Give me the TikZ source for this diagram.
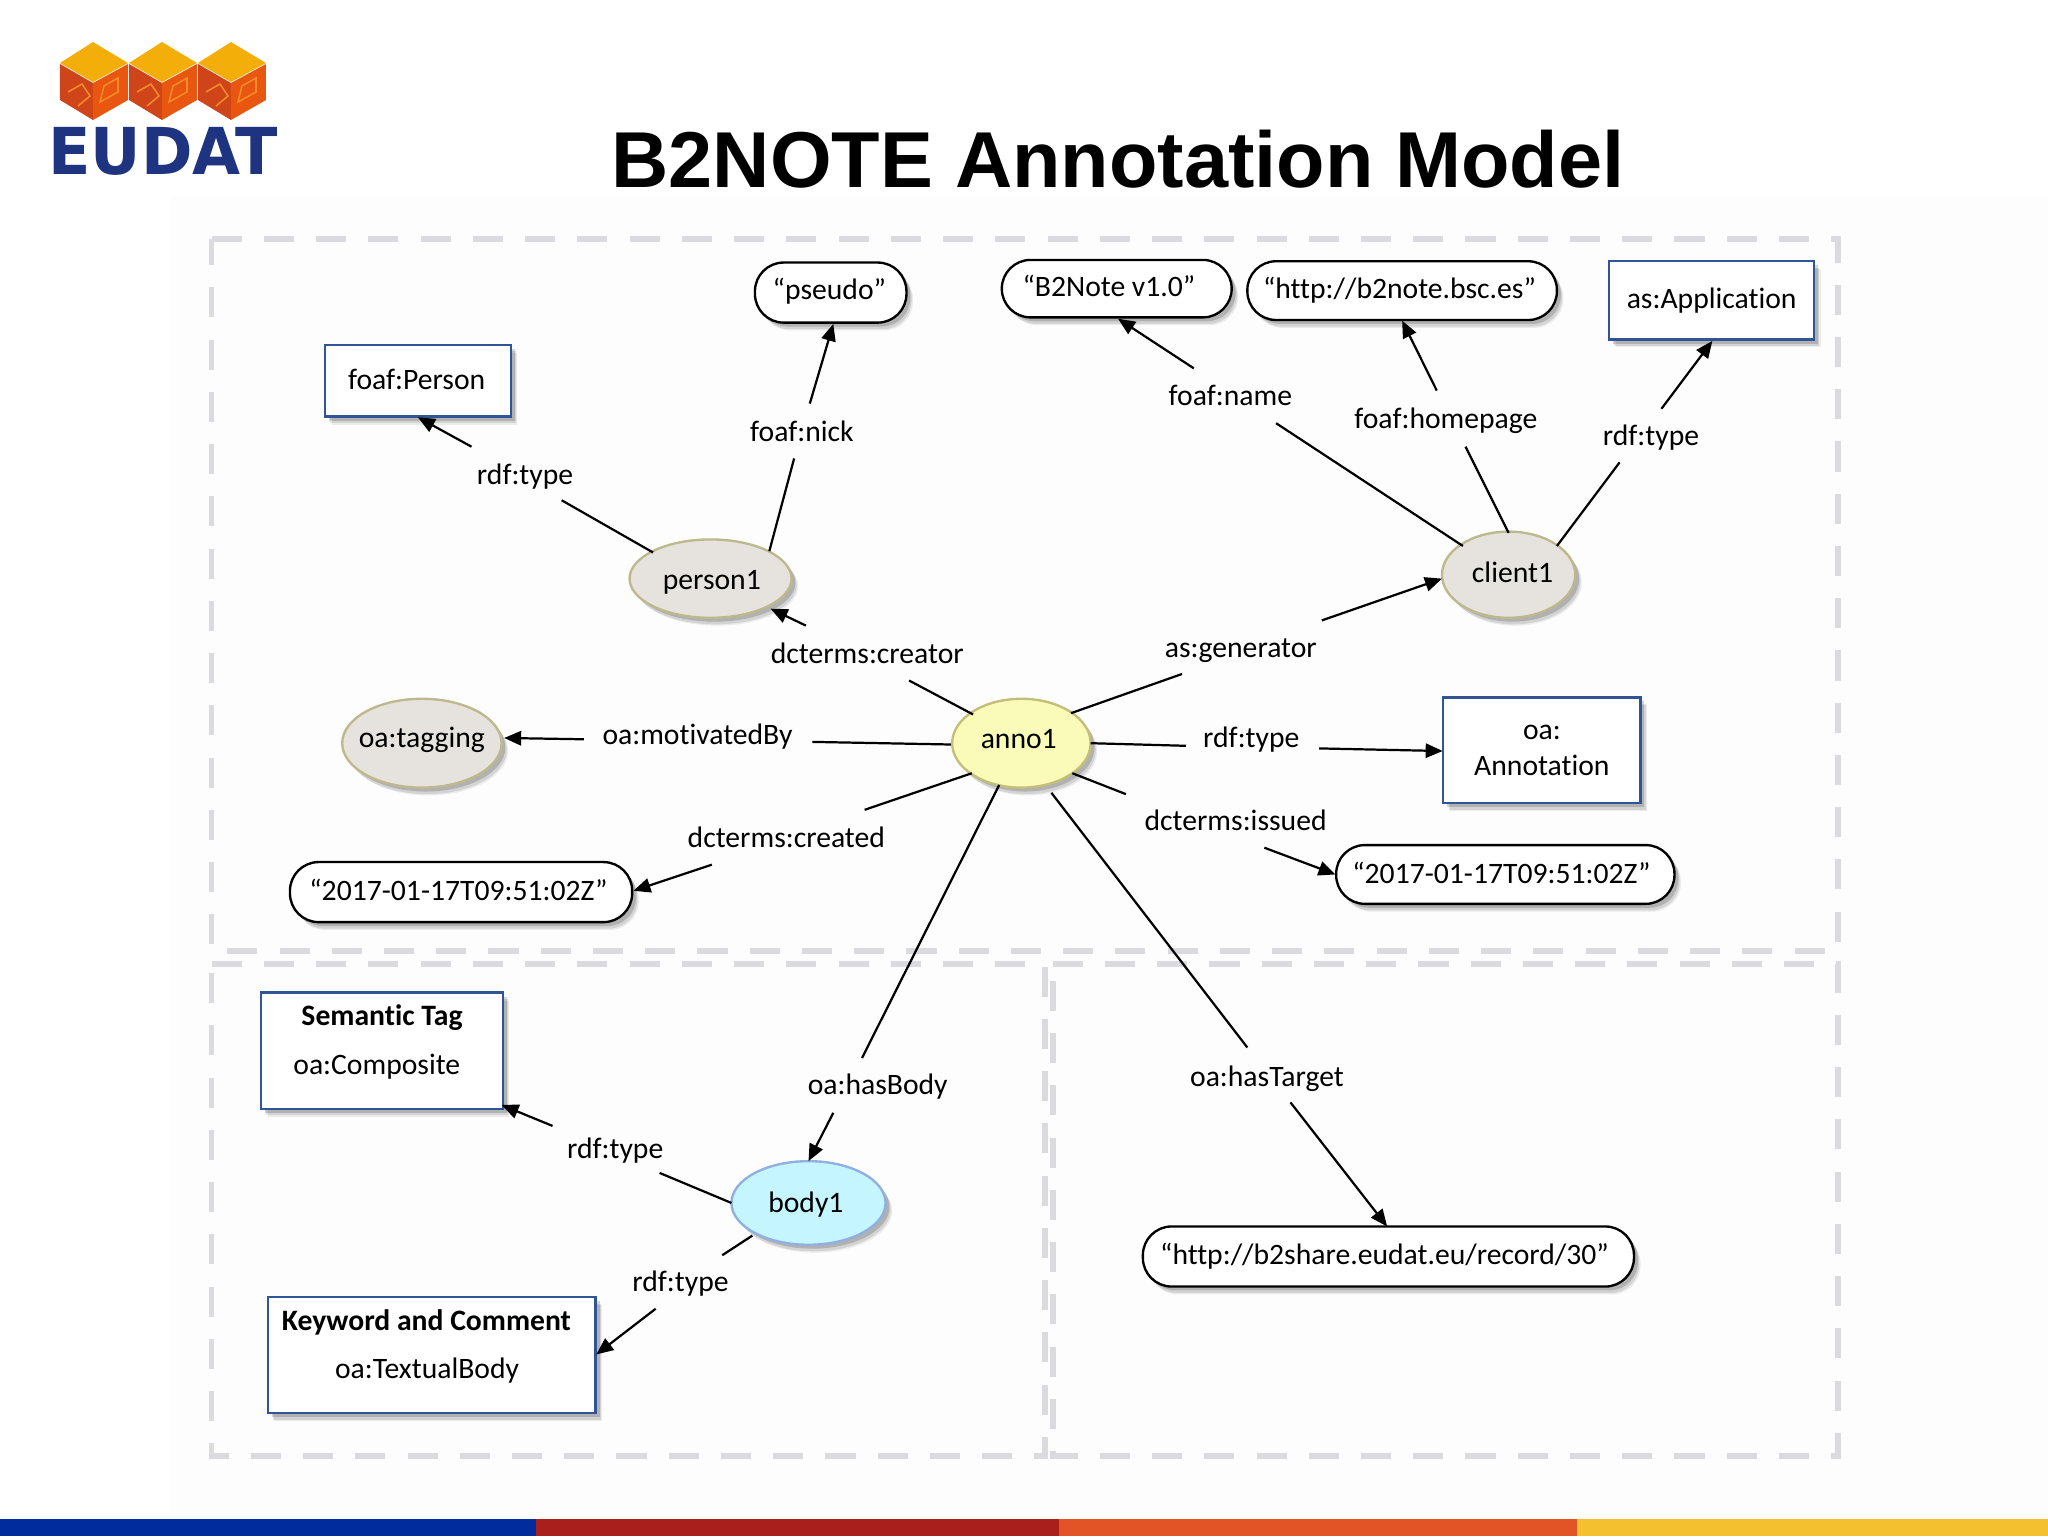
\documentclass[tikz,border=0pt]{standalone}
\usepackage{fontspec}
\setmainfont{Carlito}[Ligatures={NoCommon}]
\newfontfamily\titlefont{Liberation Sans}
\newfontfamily\logofont{DejaVu Sans}
\usetikzlibrary{shapes.geometric,arrows.meta,calc,shadows}
\definecolor{framegray}{HTML}{DADADF}
\definecolor{boxblue}{HTML}{2F5597}
\definecolor{logoblue}{HTML}{1F3480}
\definecolor{logotop}{HTML}{F4AE0A}
\definecolor{logoleft}{HTML}{CF4418}
\definecolor{logoright}{HTML}{E8560F}
\definecolor{logoline}{HTML}{F58A2A}
\definecolor{barblue}{HTML}{002C9E}
\definecolor{barred}{HTML}{A81F1C}
\definecolor{barorange}{HTML}{E25326}
\definecolor{baryellow}{HTML}{F5C030}
\definecolor{olivedraw}{HTML}{BDB98C}
\definecolor{greyfill}{HTML}{E6E3DE}
\definecolor{annofill}{HTML}{FAFBB8}
\definecolor{annodraw}{HTML}{C3BE78}
\definecolor{bodyfill}{HTML}{C5F5FF}
\definecolor{bodydraw}{HTML}{8FB0E0}
\definecolor{pagetint}{HTML}{FEFDFE}
\tikzset{
  softshadow/.style={
    drop shadow={shadow xshift=5pt,shadow yshift=-6pt,opacity=.07,fill=black},
    drop shadow={shadow xshift=4pt,shadow yshift=-5pt,opacity=.10,fill=black},
    drop shadow={shadow xshift=3pt,shadow yshift=-3pt,opacity=.16,fill=black}},
  frame/.style={draw=framegray,line width=4.4pt,dash pattern=on 23pt off 17pt},
  conn/.style={draw=black,line width=1.7pt,line cap=butt},
  arrowconn/.style={conn,-{Triangle[length=13pt,width=11pt]}},
  lbl/.style={inner sep=0pt,font=\fontsize{22.7}{27}\selectfont},
  rectbox/.style={draw=boxblue,line width=1.8pt,fill=white,softshadow,inner sep=0pt,align=center,
    font=\fontsize{22.7}{28}\selectfont},
  literal/.style={draw=black,line width=1.8pt,fill=white,rounded corners=22pt,softshadow,inner sep=0pt,
    font=\fontsize{22.7}{27}\selectfont},
  resource/.style={ellipse,draw=#1,line width=1.8pt,softshadow,inner sep=0pt,
    font=\fontsize{22.7}{27}\selectfont},
  cubetop/.style={fill=logotop},
  cubeleft/.style={fill=logoleft},
  cuberight/.style={fill=logoright},
}
% text displaced by (dx right, dy up) from its node's centre, not counted in the node's size
\newcommand{\moved}[3]{\makebox[0pt]{\hspace*{\dimexpr 2\dimexpr#1pt\relax\relax}\smash{\raisebox{\dimexpr #2pt-7pt\relax}{#3}}}}
\newcommand{\logocube}[1]{%
  \begin{scope}[shift={(#1,0)}]
    \fill[cubeleft] (60,64) -- (93,83) -- (93,120) -- (60,100) -- cycle;
    \fill[cuberight] (93,83) -- (128,64) -- (128,100) -- (93,120) -- cycle;
    \fill[cubetop] (60,63) -- (93,42) -- (128,63) -- (93,82) -- cycle;
    \draw[logoline,line width=1.2pt] (68,92) -- (82,84) -- (90,96) -- (78,106);
    \draw[logoline,line width=1.2pt] (100,102) -- (118,92) -- (118,78) -- (104,86) -- cycle;
  \end{scope}}
\begin{document}
\begin{tikzpicture}[x=1pt,y=-1pt]
\useasboundingbox (0,0) rectangle (1568,1176);
\fill[white] (0,0) rectangle (1568,1176);
\fill[pagetint] (130,150) rectangle (1568,1160);
% bottom bar
\fill[barblue] (0,1163) rectangle (410,1176);
\fill[barred] (410,1163) rectangle (811,1176);
\fill[barorange] (811,1163) rectangle (1207,1176);
\fill[baryellow] (1207,1163) rectangle (1568,1176);
% logo
\begin{scope}[x=0.7656pt,y=-0.7656pt]
  \logocube{0}\logocube{69}\logocube{138}
\end{scope}
\node[inner sep=0pt,xscale=.96,text=logoblue,font=\logofont\bfseries\fontsize{49.5}{50}\selectfont] (eudat) at (125,116) {EUDAT};
% title
\node[inner sep=0pt,font=\titlefont\bfseries\fontsize{60.7}{62}\selectfont] (title) at (856,122) {B2NOTE Annotation Model};
% dashed frames
\draw[frame] (162,183) -- (1407,183) -- (1407,728) -- (162,728) -- cycle;
\draw[frame] (162,738) -- (800,738) -- (800,1115) -- (162,1115) -- cycle;
\draw[frame] (806,738) -- (1407,738) -- (1407,1115) -- (806,1115) -- cycle;
% nodes
\node[rectbox,minimum width=142pt,minimum height=55pt] (person) at (320,291.5) {\moved{-1}{0.5}{foaf:Person}};
\node[literal,minimum width=116pt,minimum height=46pt] (pseudo) at (636,224) {\moved{-1}{2}{“pseudo”}};
\node[literal,minimum width=176pt,minimum height=44pt] (b2note) at (855,221) {\moved{-6}{1}{“B2Note v1.0”}};
\node[literal,minimum width=237pt,minimum height=45pt] (homepage) at (1073.5,222.5) {\moved{-2}{1}{“http://b2note.bsc.es”}};
\node[rectbox,minimum width=157pt,minimum height=60pt] (application) at (1310.5,230) {as:Application};
\node[resource=olivedraw,fill=greyfill,minimum width=124pt,minimum height=60pt] (person1) at (544,443) {\moved{1}{-1}{person1}};
\node[resource=olivedraw,fill=greyfill,minimum width=102pt,minimum height=66pt] (client1) at (1155,440) {\moved{3}{1}{client1}};
\node[resource=olivedraw,fill=greyfill,minimum width=122pt,minimum height=68pt] (tagging) at (323,569) {\moved{0}{4}{oa:tagging}};
\node[resource=annodraw,fill=annofill,minimum width=106pt,minimum height=68pt] (anno1) at (782,569) {\moved{-2}{3}{anno1}};
\node[rectbox,minimum width=151pt,minimum height=81pt] (annotation) at (1180.5,574.5) {oa:\\Annotation};
\node[literal,minimum width=259pt,minimum height=45pt] (issued) at (1152.5,669.5) {\moved{-3}{0}{“2017-01-17T09:51:02Z”}};
\node[literal,minimum width=262pt,minimum height=46pt] (created) at (353,683) {\moved{-2}{0.5}{“2017-01-17T09:51:02Z”}};
\node[rectbox,font=\fontsize{22.7}{37}\selectfont,minimum width=185pt,minimum height=89pt] (semantic) at (292.5,804.5) {\textbf{Semantic Tag}\\\hspace*{-8pt}oa:Composite\rule[-17pt]{0pt}{0pt}};
\node[rectbox,font=\fontsize{22.7}{37}\selectfont,minimum width=251pt,minimum height=89pt] (keyword) at (330.5,1037.5) {\textbf{Keyword and Comment}\hspace*{8pt}\\oa:TextualBody\hspace*{7pt}\rule[-17pt]{0pt}{0pt}};
\node[resource=bodydraw,fill=bodyfill,minimum width=118pt,minimum height=64pt] (body1) at (619,921) {\moved{-2}{0}{body1}};
\node[literal,minimum width=376pt,minimum height=46pt] (target) at (1063,962) {\moved{-3}{1}{“http://b2share.eudat.eu/record/30”}};
% edge labels
\node[lbl] (t1) at (402,365) {rdf:type};
\node[lbl] (nick) at (614,330) {foaf:nick};
\node[lbl] (name) at (942,303) {foaf:name};
\node[lbl] (hp) at (1107,322) {foaf:homepage};
\node[lbl] (t2) at (1264,335) {rdf:type};
\node[lbl] (creator) at (664,500) {dcterms:creator};
\node[lbl] (generator) at (950,498) {as:generator};
\node[lbl] (motivated) at (534,564) {oa:motivatedBy};
\node[lbl] (t3) at (958,566) {rdf:type};
\node[lbl] (createdl) at (602,641) {dcterms:created};
\node[lbl] (issuedl) at (946,628) {dcterms:issued};
\node[lbl] (hasbody) at (672,832) {oa:hasBody};
\node[lbl] (hastarget) at (970,826) {oa:hasTarget};
\node[lbl] (t4) at (471,881) {rdf:type};
\node[lbl] (t5) at (521,983) {rdf:type};
% connectors
\draw[conn] ($(person1)+(-44,-20)$) -- ($(t1)+(28,18)$);
\draw[arrowconn] ($(t1)+(-41,-23)$) -- ($(person)+(0,28)$);
\draw[conn] ($(person1)+(45,-21)$) -- ($(nick)+(-6,21)$);
\draw[arrowconn] ($(nick)+(6,-21)$) -- ($(pseudo)+(2,24)$);
\draw[conn] ($(client1)+(-35,-22)$) -- ($(name)+(35,21)$);
\draw[arrowconn] ($(name)+(-28,-21)$) -- ($(b2note)+(1,23)$);
\draw[conn] ($(client1)+(0,-32)$) -- ($(hp)+(15,20)$);
\draw[arrowconn] ($(hp)+(-7,-23)$) -- ($(homepage)+(0,23)$);
\draw[conn] ($(client1)+(37,-22)$) -- ($(t2)+(-24,19)$);
\draw[arrowconn] ($(t2)+(8,-22)$) -- ($(application)+(0.5,31)$);
\draw[conn] ($(anno1)+(-37,-22)$) -- ($(creator)+(32,21)$);
\draw[arrowconn] ($(creator)+(-47,-21)$) -- ($(person1)+(46,23)$);
\draw[conn] ($(anno1)+(38,-23)$) -- ($(generator)+(-45,18)$);
\draw[arrowconn] ($(generator)+(62,-23)$) -- ($(client1)+(-51,3)$);
\draw[conn] ($(anno1)+(-54,1)$) -- ($(motivated)+(88,4)$);
\draw[arrowconn] ($(motivated)+(-87,2)$) -- ($(tagging)+(63,-4)$);
\draw[conn] ($(anno1)+(53,0)$) -- ($(t3)+(-50,5)$);
\draw[arrowconn] ($(t3)+(52,7)$) -- ($(annotation)+(-76,0.5)$);
\draw[conn] ($(anno1)+(-38,23)$) -- ($(createdl)+(60,-21)$);
\draw[arrowconn] ($(createdl)+(-57,21)$) -- ($(created)+(132,-1)$);
\draw[conn] ($(anno1)+(39,23)$) -- ($(issuedl)+(-84,-20)$);
\draw[arrowconn] ($(issuedl)+(22,21)$) -- ($(issued)+(-130,0)$);
\draw[conn] ($(anno1)+(-17,32)$) -- ($(hasbody)+(-12,-22)$);
\draw[arrowconn] ($(hasbody)+(-34,20)$) -- ($(body1)+(0,-32)$);
\draw[conn] ($(anno1)+(23,38)$) -- ($(hastarget)+(-15,-24)$);
\draw[arrowconn] ($(hastarget)+(18,18)$) -- ($(target)+(-1,-23)$);
\draw[conn] ($(body1)+(-59,0)$) -- ($(t4)+(34,17)$);
\draw[arrowconn] ($(t4)+(-48,-19)$) -- ($(semantic)+(91.5,41.5)$);
\draw[conn] ($(body1)+(-43,25)$) -- ($(t5)+(32,-22)$);
\draw[arrowconn] ($(t5)+(-19,19)$) -- ($(keyword)+(126,-0.5)$);
\end{tikzpicture}
\end{document}
